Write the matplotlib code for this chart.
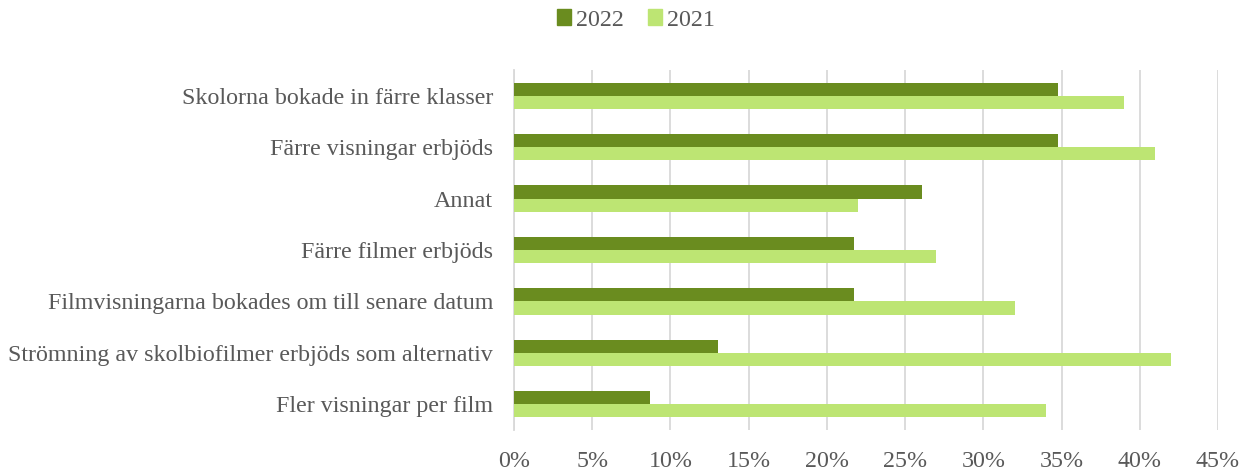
import numpy as np
import matplotlib.pyplot as plt
from matplotlib.patches import Patch

categories = ["Skolorna bokade in färre klasser",
              "Färre visningar erbjöds",
              "Annat",
              "Färre filmer erbjöds",
              "Filmvisningarna bokades om till senare datum",
              "Strömning av skolbiofilmer erbjöds som alternativ",
              "Fler visningar per film"]
v2022 = [34.8, 34.8, 26.1, 21.75, 21.75, 13.05, 8.7]
v2021 = [39.0, 41.0, 22.0, 27.0, 32.0, 42.0, 34.0]
ticks = [0, 5, 10, 15, 20, 25, 30, 35, 40, 45]

dark = '#6a8c1f'
light = '#bde573'
txt = '#595959'

plt.rcParams['font.family'] = ['Liberation Serif', 'DejaVu Serif']

fig = plt.figure(figsize=(12.48, 4.7), dpi=100)
ax = fig.add_axes([514/1248, 40/470, (1218-514)/1248, 360/470])

y = np.arange(len(categories))
h = 0.255
ax.barh(y - h/2, v2022, height=h, color=dark, zorder=3)
ax.barh(y + h/2, v2021, height=h, color=light, zorder=3)

ax.set_ylim(len(categories) - 0.5, -0.5)
ax.set_xlim(0, 45)
ax.set_xticks(ticks)
ax.set_xticklabels([f"{t}%" for t in ticks])
ax.set_yticks(y)
ax.set_yticklabels(categories)
ax.tick_params(axis='both', length=0, labelsize=17.3, colors=txt)
ax.tick_params(axis='y', pad=15)
ax.tick_params(axis='x', pad=15)
ax.grid(axis='x', color='#d9d9d9', linewidth=1.3, zorder=0)
for s in ['top', 'right', 'bottom']:
    ax.spines[s].set_visible(False)
ax.spines['left'].set_color('#d9d9d9')
ax.spines['left'].set_linewidth(1.3)

handles = [Patch(color=dark, label='2022'), Patch(color=light, label='2021')]
fig.legend(handles=handles, loc='center', bbox_to_anchor=(636/1248, 1 - 20/470),
           ncol=2, frameon=False, fontsize=17.3, labelcolor=txt,
           handlelength=0.6, handleheight=0.6, handletextpad=0.2, columnspacing=1.0)

fig.savefig('out.png', dpi=100)
